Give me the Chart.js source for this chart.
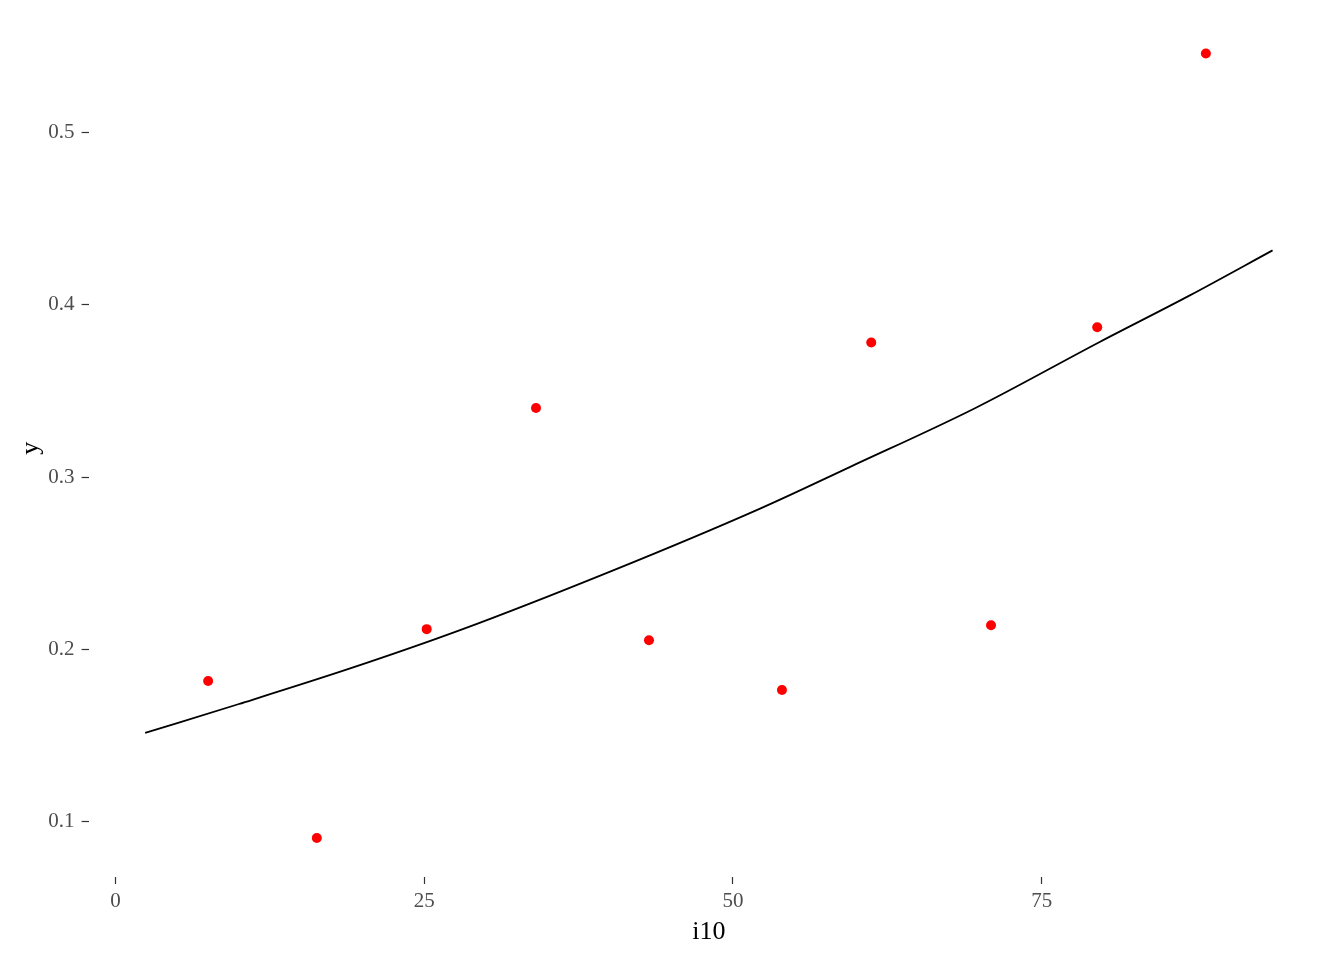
<!DOCTYPE html>
<html>
<head>
<meta charset="utf-8">
<script src="https://cdn.jsdelivr.net/npm/chart.js@4/dist/chart.umd.min.js"></script>
<style>
  html, body { margin: 0; padding: 0; background: #ffffff; }
  #wrap { width: 1344px; height: 960px; position: relative; }
</style>
</head>
<body>
<div id="wrap"><canvas id="c" width="1344" height="960"></canvas></div>
<script>
// Observed points
const pointX = [7.5, 16.3, 25.2, 34.05, 43.2, 53.97, 61.2, 70.9, 79.5, 88.3];
const pointY = [0.1817, 0.0907, 0.2118, 0.340, 0.2054, 0.1765, 0.378, 0.2141, 0.3868, 0.5455];

// Fitted curve
const curveX = [2.4, 10, 19.0, 27.9, 40.0, 52.2, 59.5, 69.6, 79.7, 87.0, 93.7];
const curveY = [0.1516, 0.1684, 0.189, 0.2112, 0.245, 0.2817, 0.3059, 0.3399, 0.3783, 0.4053, 0.4314];

// Ticks
const xTickValues = [0, 25, 50, 75];
const xTickLabels = ["0", "25", "50", "75"];
const yTickValues = [0.1, 0.2, 0.3, 0.4, 0.5];
const yTickLabels = ["0.1", "0.2", "0.3", "0.4", "0.5"];

const xTitle = "i10";
const yTitle = "y";

const FONT = "'Liberation Serif', 'Times New Roman', serif";

const points = pointX.map((x, i) => ({ x: x, y: pointY[i] }));
const curve = curveX.map((x, i) => ({ x: x, y: curveY[i] }));

new Chart(document.getElementById('c'), {
  type: 'scatter',
  data: {
    datasets: [
      {
        type: 'line',
        data: curve,
        borderColor: '#000000',
        borderWidth: 1.8,
        pointRadius: 0,
        fill: false,
        cubicInterpolationMode: 'monotone',
        order: 2
      },
      {
        type: 'scatter',
        data: points,
        backgroundColor: '#FF0000',
        borderColor: '#FF0000',
        borderWidth: 0,
        pointRadius: 5,
        order: 1
      }
    ]
  },
  options: {
    responsive: false,
    animation: false,
    devicePixelRatio: 1,
    layout: { padding: { left: 0, right: 15, top: 14, bottom: 0 } },
    plugins: {
      legend: { display: false },
      tooltip: { enabled: false }
    },
    scales: {
      x: {
        type: 'linear',
        min: -2.18,
        max: 98.27,
        afterBuildTicks: (s) => { s.ticks = xTickValues.map(v => ({ value: v })); },
        afterFit: (s) => { s.height = 83; },
        ticks: {
          autoSkip: false,
          maxRotation: 0,
          padding: 5,
          color: '#4D4D4D',
          font: { family: FONT, size: 21 },
          callback: (v) => { const i = xTickValues.indexOf(v); return i >= 0 ? xTickLabels[i] : ''; }
        },
        grid: { display: true, drawOnChartArea: false, drawTicks: true, tickLength: 7, tickWidth: 1.2, tickColor: '#333333' },
        border: { display: false },
        title: {
          display: true,
          text: xTitle,
          color: '#000000',
          font: { family: FONT, size: 26 },
          padding: { top: 0, bottom: 12 }
        }
      },
      y: {
        type: 'linear',
        min: 0.0681,
        max: 0.5652,
        afterBuildTicks: (s) => { s.ticks = yTickValues.map(v => ({ value: v })); },
        afterFit: (s) => { s.width = 88.6; },
        ticks: {
          autoSkip: false,
          padding: 7,
          color: '#4D4D4D',
          font: { family: FONT, size: 21 },
          callback: (v) => { const i = yTickValues.findIndex(t => Math.abs(t - v) < 1e-9); return i >= 0 ? yTickLabels[i] : ''; }
        },
        grid: { display: true, drawOnChartArea: false, drawTicks: true, tickLength: 7, tickWidth: 1.2, tickColor: '#333333' },
        border: { display: false },
        title: {
          display: true,
          text: yTitle,
          color: '#000000',
          font: { family: FONT, size: 26 },
          padding: { top: 16, bottom: 0 }
        }
      }
    }
  }
});
</script>
</body>
</html>
